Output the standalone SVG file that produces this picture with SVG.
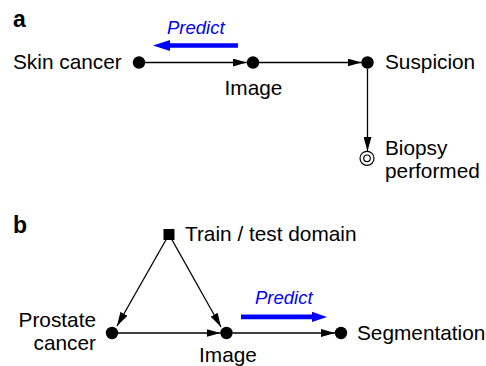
<svg xmlns="http://www.w3.org/2000/svg" width="486" height="366" viewBox="0 0 486 366">
<defs>
<style>
text{font-family:"Liberation Sans",Arial,Helvetica,sans-serif;font-size:20.8px;fill:#000}
.lab{font-weight:bold;font-size:23px}
.pred{font-style:italic;font-size:18.5px;fill:#0000ff}
.edge{stroke:#000;stroke-width:1.3;fill:none;marker-end:url(#ah)}
.dot{fill:#000}
.blue{fill:#0000ff}
</style>
<marker id="ah" viewBox="0 0 14 8" refX="14" refY="4" markerWidth="14" markerHeight="8" markerUnits="userSpaceOnUse" orient="auto">
<path d="M0,0 L14,4 L0,8 z" fill="#000"/>
</marker>
</defs>
<text class="lab" x="13" y="27">a</text>
<text class="lab" x="13" y="233">b</text>
<g id="connectors">
<line class="edge" x1="145" y1="62.5" x2="246.7" y2="62.5"/>
<line class="edge" x1="259" y1="62.5" x2="361.5" y2="62.5"/>
<line class="edge" x1="367.5" y1="68.5" x2="367.5" y2="151"/>
<line class="edge" x1="169" y1="234.5" x2="117" y2="326"/>
<line class="edge" x1="169" y1="234.5" x2="221" y2="327"/>
<line class="edge" x1="118" y1="333" x2="220.5" y2="333"/>
<line class="edge" x1="232.5" y1="333" x2="335" y2="333"/>
</g>
<g id="predict-a">
<polygon class="blue" points="238,43.3 170,43.3 170,40 153,45.5 170,51 170,47.7 238,47.7"/>
<text class="pred" x="167" y="34">Predict</text>
</g>
<g id="predict-b">
<polygon class="blue" points="241,314.5 312,314.5 312,311.7 327,317 312,322 312,319.3 241,319.3"/>
<text class="pred" x="255" y="304">Predict</text>
</g>
<g id="skin-cancer">
<circle class="dot" cx="139" cy="62.5" r="6.2"/>
<text x="13" y="69">Skin cancer</text>
</g>
<g id="image-a">
<circle class="dot" cx="253" cy="62.5" r="6.2"/>
<text x="253.5" y="95" text-anchor="middle">Image</text>
</g>
<g id="suspicion">
<circle class="dot" cx="367.5" cy="62.5" r="6.2"/>
<text x="385" y="69">Suspicion</text>
</g>
<g id="biopsy">
<circle cx="367" cy="158.3" r="7" fill="#fff" stroke="#000" stroke-width="1.2"/>
<circle cx="367" cy="158.3" r="3.3" fill="none" stroke="#000" stroke-width="1.2"/>
<text x="385" y="155">Biopsy</text>
<text x="385" y="178">performed</text>
</g>
<g id="domain">
<rect x="163.5" y="229" width="11" height="11" fill="#000"/>
<text x="185" y="241">Train / test domain</text>
</g>
<g id="prostate">
<circle class="dot" cx="112" cy="333" r="6.2"/>
<text x="96" y="326.5" text-anchor="end">Prostate</text>
<text x="96" y="350" text-anchor="end">cancer</text>
</g>
<g id="image-b">
<circle class="dot" cx="226.5" cy="333" r="6.2"/>
<text x="228" y="361.5" text-anchor="middle">Image</text>
</g>
<g id="segmentation">
<circle class="dot" cx="341" cy="333" r="6.2"/>
<text x="357" y="340">Segmentation</text>
</g>
</svg>
